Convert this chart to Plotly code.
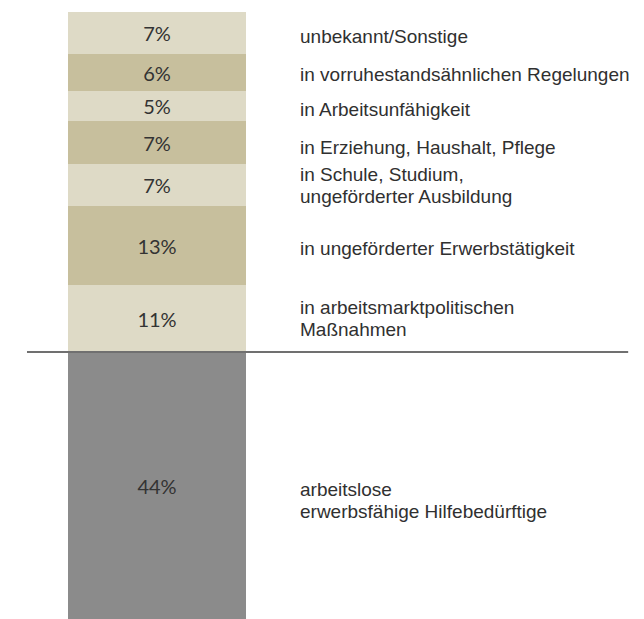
import plotly.graph_objects as go

# Data (bottom to top of the stacked bar)
categories = [
    "arbeitslose<br>erwerbsfähige Hilfebedürftige",
    "in arbeitsmarktpolitischen<br>Maßnahmen",
    "in ungeförderter Erwerbstätigkeit",
    "in Schule, Studium,<br>ungeförderter Ausbildung",
    "in Erziehung, Haushalt, Pflege",
    "in Arbeitsunfähigkeit",
    "in vorruhestandsähnlichen Regelungen",
    "unbekannt/Sonstige",
]
values = [44, 11, 13, 7, 7, 5, 6, 7]
colors = ["#8b8b8b", "#dedac6", "#c7bf9d", "#dedac6", "#c7bf9d", "#dedac6", "#c7bf9d", "#dedac6"]
label_shift = [-15, 0, -3, 0, -5, -3, -2, -3]  # px fine-tuning of side labels
LINE_GAP = 22  # px between lines of a wrapped label

fig = go.Figure()
cum = 0
for cat, v, c, sh in zip(categories, values, colors, label_shift):
    fig.add_trace(go.Bar(
        x=[0], y=[v], marker=dict(color=c, line=dict(width=0)),
        width=1, text=[f"{v}%"], textposition="inside", insidetextanchor="middle",
        textangle=0, constraintext="none",
        textfont=dict(family="Lato", size=20, color="#333333"),
        showlegend=False, hoverinfo="skip",
    ))
    lines = cat.split("<br>")
    n = len(lines)
    for i, line in enumerate(lines):
        fig.add_annotation(
            x=0.798, y=cum + v / 2, xref="x", yref="y", text=line, showarrow=False,
            xanchor="left", yanchor="middle", align="left", borderpad=0,
            yshift=sh + ((n - 1) / 2 - i) * LINE_GAP,
            font=dict(family="Liberation Sans, Arial", size=19, color="#303030"),
        )
    cum += v

fig.add_shape(type="line", xref="paper", yref="y", x0=0.0295, x1=0.963, y0=values[0], y1=values[0],
              line=dict(color="#707070", width=2))

fig.update_layout(
    barmode="stack", width=644, height=619,
    margin=dict(l=0, r=0, t=4, b=8),
    paper_bgcolor="white", plot_bgcolor="white",
    xaxis=dict(range=[-0.837, 2.781], visible=False, fixedrange=True),
    yaxis=dict(range=[0, 100], visible=False, fixedrange=True),
    bargap=0,
)
fig.write_html("out.html")
